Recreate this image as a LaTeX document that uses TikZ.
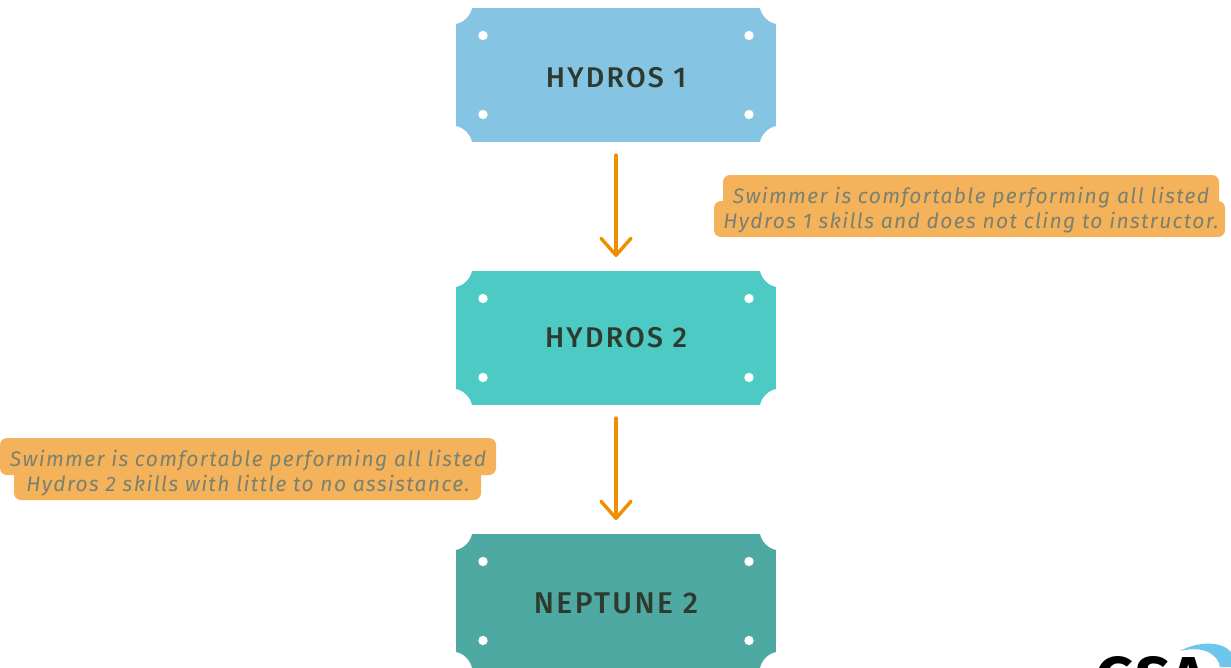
\documentclass[tikz,border=0pt]{standalone}
\usepackage{fontspec}
\setmainfont{Fira Sans}
\newfontfamily\platefont[LetterSpace=8]{Fira Sans Medium}
\newfontfamily\notefont[LetterSpace=6.4]{Fira Sans}
\usepackage{tikz}
\usetikzlibrary{arrows.meta}
\definecolor{hydrosblue}{HTML}{85C5E3}
\definecolor{hydrosteal}{HTML}{4DCAC4}
\definecolor{neptunegreen}{HTML}{4DA9A1}
\definecolor{flowline}{HTML}{EE8E00}
\definecolor{noteback}{HTML}{F4B25A}
\definecolor{notetext}{HTML}{7A8170}
\definecolor{platetext}{HTML}{2F3A2E}
\definecolor{logoblue}{HTML}{6EC6EE}

\tikzset{
  plate/.style={
    minimum width=320pt, minimum height=134pt, inner sep=0pt, outer sep=0pt,
    text height=24pt, text depth=0pt,
    text=platetext, font=\platefont\fontsize{28.5}{28.5}\selectfont,
    path picture={
      \foreach \cx/\sx in {west/-5,east/5} \foreach \cy/\sy in {north/5,south/-5}
        \fill[white] (path picture bounding box.\cy\space\cx) ++(\sx pt,\sy pt) circle (21.6pt);
      \foreach \hx in {-133,133} \foreach \hy in {-39.5,39.5}
        \fill[white] (path picture bounding box.center) ++(\hx pt,\hy pt) circle (4.7pt);
    }
  },
  flow/.style={draw=flowline, line width=3.4pt, line cap=round,
    -{Straight Barb[length=17pt,width=30pt,line width=3.4pt,round]}},
  notebox/.style={fill=noteback, rounded corners=7pt},
  notelabel/.style={align=center, inner sep=0pt, text=notetext,
    font=\notefont\itshape\fontsize{21}{25.5}\selectfont}
}

\begin{document}
\begin{tikzpicture}[x=1pt, y=-1pt]
  \clip (0,0) rectangle (1231,667);

  \node[plate, fill=hydrosblue] (hydrosone) at (616,75) {HYDROS 1};
  \node[plate, fill=hydrosteal, text height=19pt] (hydrostwo) at (616,338) {HYDROS 2};
  \node[plate, fill=neptunegreen, font=\platefont\fontsize{30}{30}\selectfont] (neptune) at (616,601) {NEPTUNE 2};

  \draw[flow, shorten <=13pt, shorten >=14pt] (hydrosone) -- (hydrostwo);
  \draw[flow, shorten <=13pt, shorten >=14pt] (hydrostwo) -- (neptune);

  \fill[notebox] (723,175) rectangle (1219,215);
  \fill[notebox] (714,201) rectangle (1225,237);
  \node[notelabel] (noteone) at (971,210) {Swimmer is comfortable performing all listed\\Hydros 1 skills and does not cling to instructor.};

  \fill[notebox] (0,438) rectangle (496,475);
  \fill[notebox] (14,462) rectangle (481,500);
  \node[notelabel] (notetwo) at (248,473) {Swimmer is comfortable performing all listed\\Hydros 2 skills with little to no assistance.};

  \fill[logoblue] (1180,651) .. controls (1198,641) and (1222,641) .. (1231,652)
    -- (1231,667) -- (1220,667) .. controls (1218,655) and (1205,645) .. (1180,651) -- cycle;
  \node[font=\bfseries\fontsize{62}{62}\selectfont, anchor=base, inner sep=0pt] (logo) at (1151,700) {GSA};
\end{tikzpicture}
\end{document}
